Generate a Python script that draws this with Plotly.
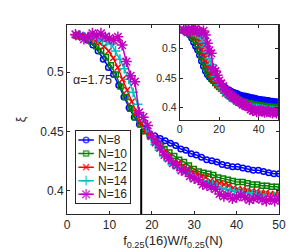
import plotly.graph_objects as go

# ---------------- data ----------------
series_names = ["N=8", "N=10", "N=12", "N=14", "N=16"]
series_colors = ["#0000FF", "#008000", "#FF0000", "#00BFBF", "#BF00BF"]
series_symbols = ["circle-open", "square-open", "x-thin-open", "cross-thin-open", "asterisk-open"]
series_msize = [5.5, 5, 6, 7, 9]

# scale factor f_0.25(16)/f_0.25(N) for each N (estimated)
scale_factor = [1.22, 1.15, 1.09, 1.04, 1.0]

# unscaled disorder W (same grid for all N)
W = [2, 3, 4, 5, 6, 7, 8, 9, 10, 11, 12, 13, 14, 15, 16, 17, 18, 19, 20, 21, 22, 23, 24, 25,
     26, 27, 28, 29, 30, 31, 32, 33, 34, 35, 36, 37, 38, 39, 40, 41, 42, 43, 44, 45, 46, 47,
     48, 49, 50]

xi_N8 = [0.531, 0.530, 0.527, 0.523, 0.518, 0.511, 0.504, 0.498, 0.489, 0.479, 0.470, 0.462,
         0.456, 0.452, 0.448, 0.446, 0.444, 0.442, 0.440, 0.438, 0.435, 0.434, 0.431, 0.430,
         0.428, 0.426, 0.425, 0.424, 0.422, 0.421, 0.420, 0.420, 0.419, 0.418, 0.417, 0.417,
         0.416, 0.415, 0.414, 0.414, 0.413, 0.413, 0.412, 0.412, 0.411, 0.411, 0.410, 0.410,
         0.409]
xi_N10 = [0.531, 0.530, 0.529, 0.526, 0.522, 0.518, 0.513, 0.506, 0.498, 0.488, 0.479, 0.469,
          0.462, 0.456, 0.450, 0.446, 0.442, 0.438, 0.435, 0.432, 0.429, 0.426, 0.424, 0.421,
          0.418, 0.416, 0.415, 0.414, 0.413, 0.411, 0.410, 0.409, 0.408, 0.407, 0.407, 0.406,
          0.405, 0.405, 0.404, 0.404, 0.403, 0.403, 0.402, 0.402, 0.401, 0.401, 0.401, 0.400,
          0.400]
xi_N12 = [0.531, 0.530, 0.530, 0.529, 0.527, 0.525, 0.522, 0.518, 0.512, 0.504, 0.494, 0.485,
          0.475, 0.466, 0.457, 0.450, 0.446, 0.440, 0.436, 0.432, 0.429, 0.424, 0.423, 0.420,
          0.418, 0.416, 0.414, 0.412, 0.411, 0.408, 0.407, 0.406, 0.405, 0.404, 0.402, 0.401,
          0.401, 0.400, 0.399, 0.399, 0.398, 0.398, 0.397, 0.397, 0.397, 0.396, 0.396, 0.396,
          0.395]
xi_N14 = [0.531, 0.531, 0.530, 0.530, 0.529, 0.528, 0.527, 0.526, 0.524, 0.518, 0.511, 0.503,
          0.494, 0.483, 0.473, 0.462, 0.453, 0.446, 0.439, 0.434, 0.429, 0.425, 0.422, 0.419,
          0.417, 0.415, 0.413, 0.411, 0.409, 0.408, 0.406, 0.405, 0.403, 0.402, 0.401, 0.400,
          0.399, 0.399, 0.398, 0.398, 0.397, 0.396, 0.396, 0.395, 0.395, 0.395, 0.394, 0.394,
          0.394]
xi_N16 = [0.532, 0.531, 0.528, 0.530, 0.533, 0.531, 0.533, 0.530, 0.529, 0.527, 0.530, 0.523,
          0.509, 0.497, 0.492, 0.466, 0.462, 0.455, 0.446, 0.441, 0.436, 0.430, 0.427, 0.423,
          0.421, 0.417, 0.416, 0.412, 0.410, 0.409, 0.405, 0.404, 0.403, 0.401, 0.397, 0.395,
          0.396, 0.393, 0.394, 0.396, 0.394, 0.392, 0.393, 0.394, 0.392, 0.391, 0.393, 0.391,
          0.393]
xi_series = [xi_N8, xi_N10, xi_N12, xi_N14, xi_N16]

crossing_x = 17.5
crossing_y = [0.38, 0.452]

x_ticks_main = [0, 10, 20, 30, 40, 50]
y_ticks = [0.4, 0.45, 0.5]
y_ticktext = ["0.4", "0.45", "0.5"]
x_ticks_inset = [0, 20, 40]
alpha_label = "α=1.75"

# ---------------- figure ----------------
FONT = "Liberation Sans, Arial, Helvetica, sans-serif"
AX = "#262626"

fig = go.Figure()

# critical crossing marker line (under the data)
fig.add_trace(go.Scatter(x=[crossing_x, crossing_x], y=crossing_y, mode="lines",
                         line=dict(color="black", width=2), showlegend=False,
                         hoverinfo="skip", xaxis="x", yaxis="y"))

# main panel: rescaled W
for name, col, sym, ms, fac, xi in zip(series_names, series_colors, series_symbols,
                                        series_msize, scale_factor, xi_series):
    xs = [fac * w for w in W]
    fig.add_trace(go.Scatter(
        x=xs, y=xi, mode="lines+markers", name=name, showlegend=False,
        line=dict(color=col, width=1.5),
        marker=dict(symbol=sym, size=ms, color=col, line=dict(color=col, width=1.5)),
        xaxis="x", yaxis="y"))

# inset: raw W
for name, col, sym, ms, xi in zip(series_names, series_colors, series_symbols,
                                  series_msize, xi_series):
    fig.add_trace(go.Scatter(
        x=W, y=xi, mode="lines+markers", name=name, showlegend=False,
        line=dict(color=col, width=1.5),
        marker=dict(symbol=sym, size=ms, color=col, line=dict(color=col, width=1.5)),
        xaxis="x2", yaxis="y2"))

# compact legend drawn on its own small axis: one row per series
legend_annotations = []
for row, (name, col, sym, ms) in enumerate(zip(series_names, series_colors,
                                                series_symbols, series_msize)):
    fig.add_trace(go.Scatter(
        x=[0.04, 0.185, 0.33], y=[row, row, row], mode="lines+markers",
        line=dict(color=col, width=1.5),
        marker=dict(symbol=sym, size=[0, ms, 0], color=col, line=dict(color=col, width=1.5)),
        showlegend=False, hoverinfo="skip", xaxis="x3", yaxis="y3"))
    legend_annotations.append(dict(x=0.37, y=row, xref="x3", yref="y3", text=name,
                                   showarrow=False, xanchor="left", yanchor="middle",
                                   font=dict(family=FONT, size=12, color=AX)))

axis_common = dict(showline=True, linecolor=AX, linewidth=1, mirror="allticks",
                   ticks="inside", ticklen=3, tickcolor=AX, showgrid=False,
                   zeroline=False, tickfont=dict(family=FONT, size=12, color=AX))
inset_common = {**axis_common, "automargin": False,
                "tickfont": dict(family=FONT, size=10.5, color=AX)}

fig.update_layout(
    width=299, height=250,
    margin=dict(l=41, r=28, t=17, b=34),
    paper_bgcolor="white", plot_bgcolor="white",
    font=dict(family=FONT, size=12, color=AX),
    showlegend=False,
    xaxis=dict(domain=[0, 1], range=[0, 50], tickvals=x_ticks_main,
               title=dict(text="f<sub>0.25</sub>(16)W/f<sub>0.25</sub>(N)",
                          font=dict(family=FONT, size=13, color=AX), standoff=4),
               **axis_common),
    yaxis=dict(domain=[0, 1], range=[0.38, 0.54], tickvals=y_ticks, ticktext=y_ticktext,
               title=dict(text="ξ", font=dict(family=FONT, size=12, color=AX), standoff=12),
               **axis_common),
    xaxis2=dict(domain=[0.532, 0.997], range=[0, 50], tickvals=x_ticks_inset,
                anchor="y2", **inset_common),
    yaxis2=dict(domain=[0.5, 1.0], range=[0.38, 0.54], tickvals=y_ticks,
                ticktext=y_ticktext, anchor="x2", **inset_common),
    xaxis3=dict(domain=[0.0435, 0.2957], range=[0, 1], anchor="y3", showline=True,
                linecolor=AX, linewidth=1, mirror=True, showticklabels=False, ticks="",
                showgrid=False, zeroline=False, automargin=False),
    yaxis3=dict(domain=[0.059, 0.437], range=[4.63, -0.63], anchor="x3", showline=True,
                linecolor=AX, linewidth=1, mirror=True, showticklabels=False, ticks="",
                showgrid=False, zeroline=False, automargin=False),
    annotations=[dict(x=1.0, y=0.4935, xref="x", yref="y", text=alpha_label,
                      showarrow=False, xanchor="left", yanchor="middle",
                      font=dict(family=FONT, size=12.5, color=AX))] + legend_annotations,
)

fig.write_html("out.html")
